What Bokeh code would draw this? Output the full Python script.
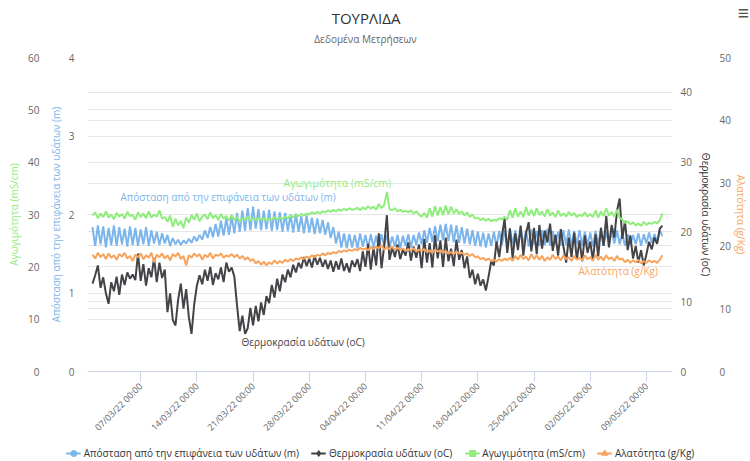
import math
import numpy as np
import pandas as pd
from bokeh.plotting import figure
from bokeh.models import Range1d, LinearAxis, FixedTicker, Grid, Label, Legend, LegendItem
from bokeh.embed import file_html
from bokeh.resources import INLINE

FONT = "Open Sans"
BLUE = "#7cb5ec"
BLACK = "#434348"
GREEN = "#90ed7d"
ORANGE = "#f7a35c"

# ---------------- data (8-hourly readings from 01/03/22 00:00) ----------------
start = "2022-03-01 00:00"
step_hours = 8

distance = [
    1.84, 1.60, 1.86, 1.62, 1.85, 1.58, 1.83, 1.61, 1.86, 1.60, 1.84, 1.62, 1.82, 1.59, 1.85,
    1.61, 1.83, 1.60, 1.81, 1.62, 1.84, 1.60, 1.80, 1.63, 1.78, 1.61, 1.76, 1.63, 1.74, 1.60,
    1.70, 1.62, 1.68, 1.61, 1.67, 1.63, 1.69, 1.64, 1.72, 1.66, 1.74, 1.68, 1.80, 1.70, 1.84,
    1.71, 1.88, 1.72, 1.92, 1.73, 1.95, 1.74, 1.98, 1.76, 2.02, 1.78, 2.05, 1.79, 2.08, 1.80,
    2.10, 1.82, 2.07, 1.80, 2.05, 1.81, 2.06, 1.79, 2.04, 1.80, 2.03, 1.78, 2.02, 1.79, 2.00,
    1.77, 2.01, 1.78, 1.98, 1.76, 1.99, 1.77, 1.96, 1.75, 1.95, 1.76, 1.93, 1.74, 1.90, 1.70,
    1.84, 1.63, 1.78, 1.58, 1.76, 1.57, 1.75, 1.58, 1.74, 1.57, 1.76, 1.59, 1.74, 1.57, 1.75,
    1.58, 1.73, 1.57, 1.75, 1.60, 1.74, 1.58, 1.72, 1.59, 1.74, 1.57, 1.73, 1.60, 1.75, 1.58,
    1.74, 1.61, 1.77, 1.62, 1.80, 1.64, 1.83, 1.65, 1.85, 1.66, 1.87, 1.67, 1.88, 1.66, 1.87,
    1.65, 1.86, 1.64, 1.84, 1.63, 1.82, 1.62, 1.80, 1.60, 1.78, 1.59, 1.77, 1.58, 1.76, 1.60,
    1.78, 1.59, 1.79, 1.61, 1.80, 1.60, 1.81, 1.62, 1.80, 1.60, 1.82, 1.61, 1.80, 1.59, 1.81,
    1.62, 1.79, 1.60, 1.80, 1.61, 1.82, 1.60, 1.79, 1.62, 1.78, 1.60, 1.80, 1.61, 1.81, 1.59,
    1.79, 1.62, 1.80, 1.60, 1.78, 1.61, 1.77, 1.59, 1.79, 1.62, 1.80, 1.60, 1.78, 1.61, 1.79,
    1.63, 1.80, 1.62, 1.76, 1.60, 1.75, 1.61, 1.74, 1.62, 1.76, 1.60, 1.75, 1.63, 1.77, 1.64,
    1.75, 1.65, 1.80, 1.72,
]

temperature = [
    12.6, 13.8, 15.2, 12.0, 13.5, 11.2, 9.7, 12.8, 11.5, 13.6, 11.0, 13.9, 12.4, 14.2, 13.3,
    13.9, 13.1, 16.9, 13.0, 15.4, 12.3, 14.8, 13.5, 16.3, 12.8, 15.6, 13.4, 14.6, 8.5, 11.2,
    7.4, 6.6, 10.3, 12.6, 9.0, 11.8, 7.8, 5.4, 9.6, 12.3, 13.8, 12.5, 14.6, 13.0, 15.0,
    12.4, 14.1, 13.2, 14.9, 12.8, 15.6, 14.3, 14.9, 13.6, 9.5, 5.8, 8.0, 5.4, 6.2, 9.1,
    6.6, 9.4, 7.2, 9.9, 8.1, 10.8, 9.8, 12.4, 10.6, 13.3, 11.5, 13.9, 12.8, 14.6, 13.5,
    15.3, 14.2, 15.6, 14.8, 16.4, 15.1, 16.2, 14.9, 16.6, 15.3, 16.3, 15.0, 16.0, 14.7, 15.9,
    14.3, 15.8, 14.6, 16.2, 14.4, 15.5, 14.2, 15.9, 15.0, 16.1, 14.4, 17.2, 15.0, 18.3, 14.6,
    17.8, 15.2, 19.8, 14.8, 18.0, 22.4, 16.0, 17.8, 16.4, 18.2, 16.1, 17.5, 16.6, 18.5, 15.9,
    17.9, 16.3, 18.2, 14.8, 19.0, 15.6, 18.4, 14.9, 19.5, 16.2, 18.8, 15.0, 19.2, 15.8, 17.6,
    15.1, 18.9, 16.0, 17.4, 14.8, 16.5, 13.4, 14.6, 12.5, 14.0, 12.3, 13.2, 11.6, 13.6, 15.8,
    15.2, 18.6, 16.4, 19.4, 21.9, 17.0, 20.5, 16.2, 19.8, 17.4, 20.9, 16.6, 19.8, 21.4, 17.2,
    20.6, 16.8, 21.0, 17.6, 20.2, 18.5, 21.2, 17.3, 19.6, 16.6, 20.4, 17.9, 15.6, 19.2, 16.4,
    19.9, 16.0, 18.8, 15.8, 19.5, 17.0, 18.6, 15.9, 19.7, 16.5, 20.6, 18.0, 22.3, 17.8, 21.0,
    19.2, 23.0, 24.8, 19.0, 21.6, 17.4, 19.5, 16.2, 18.0, 15.6, 17.4, 15.2, 16.8, 18.6, 17.5,
    19.2, 18.3, 20.5, 20.9,
]

conductivity = [
    29.8, 30.4, 29.3, 30.2, 29.5, 30.6, 29.4, 30.0, 29.1, 30.3, 29.6, 30.1, 29.2, 30.5, 29.7,
    29.9, 29.0, 30.4, 29.5, 30.2, 29.3, 30.6, 29.4, 30.0, 29.6, 30.8, 29.2, 29.5, 28.6, 29.8,
    27.6, 29.2, 27.9, 28.8, 27.4, 29.5, 28.4, 29.9, 29.0, 30.2, 28.7, 29.6, 30.0, 29.1, 30.4,
    29.3, 29.9, 28.9, 30.1, 29.2, 29.7, 28.8, 29.9, 29.0, 29.5, 28.7, 29.3, 29.0, 29.6, 28.8,
    29.2, 28.9, 29.4, 29.0, 29.3, 28.8, 29.2, 29.0, 29.5, 29.1, 29.4, 29.2, 29.6, 29.3, 29.8,
    29.5, 29.9, 29.7, 30.1, 29.8, 30.2, 30.0, 30.4, 30.1, 30.5, 30.2, 30.6, 30.4, 30.8, 30.5,
    30.9, 30.6, 31.0, 30.7, 31.1, 30.8, 31.2, 30.9, 31.0, 31.3, 30.8, 31.4, 31.0, 31.6, 31.1,
    31.5, 30.9, 32.0, 31.2, 31.8, 34.3, 31.0, 30.8, 31.2, 30.6, 30.9, 30.5, 30.7, 30.4, 30.8,
    30.2, 30.6, 30.0, 29.6, 30.3, 29.4, 31.2, 29.6, 31.6, 29.8, 31.4, 29.9, 31.7, 30.0, 31.5,
    30.2, 31.0, 30.1, 30.6, 29.8, 30.4, 29.5, 30.0, 29.2, 29.4, 28.9, 29.3, 28.8, 29.2, 28.7,
    29.0, 28.8, 29.3, 29.1, 29.6, 29.0, 30.8, 29.4, 31.2, 29.6, 30.6, 29.5, 31.4, 29.8, 30.9,
    29.7, 31.2, 29.9, 30.6, 29.6, 31.0, 29.8, 30.4, 29.5, 30.8, 29.7, 30.2, 29.6, 30.5, 29.8,
    30.3, 29.5, 30.0, 29.7, 30.4, 29.6, 30.1, 29.5, 30.8, 29.4, 30.6, 29.7, 31.2, 29.8, 30.5,
    29.6, 30.9, 29.4, 29.0, 28.4, 28.7, 28.1, 28.5, 27.9, 28.3, 27.8, 28.6, 28.0, 28.4, 28.2,
    28.6, 28.3, 28.9, 30.2,
]

salinity = [
    18.6, 18.0, 18.9, 18.2, 18.7, 17.9, 18.8, 18.1, 18.5, 17.8, 18.7, 18.3, 18.9, 18.0, 18.4,
    17.6, 18.6, 18.2, 18.8, 17.9, 18.5, 18.1, 18.9, 17.4, 18.6, 18.2, 18.8, 18.0, 18.5, 17.7,
    18.7, 18.3, 18.9, 17.9, 18.4, 16.9, 18.5, 18.1, 18.8, 18.3, 18.7, 17.8, 18.6, 18.2, 18.9,
    18.0, 18.6, 18.4, 18.8, 18.1, 18.5, 18.3, 18.7, 18.2, 18.6, 18.0, 18.4, 17.8, 18.2, 17.6,
    17.9, 17.2, 17.6, 17.0, 17.5, 16.9, 17.4, 17.1, 17.7, 17.2, 17.6, 17.3, 17.8, 17.5, 17.9,
    17.6, 18.0, 17.8, 18.2, 17.9, 18.3, 18.1, 18.5, 18.2, 18.6, 18.4, 18.8, 18.5, 18.9, 18.7,
    19.0, 18.8, 19.2, 19.0, 19.3, 19.1, 19.4, 19.2, 19.5, 19.3, 19.7, 19.4, 19.6, 19.3, 19.8,
    19.5, 19.9, 19.6, 20.1, 19.4, 19.8, 19.5, 19.9, 19.3, 19.7, 19.4, 19.6, 19.2, 19.5, 19.3,
    19.6, 19.1, 19.4, 19.2, 19.5, 19.0, 19.3, 18.9, 19.4, 19.1, 19.3, 18.9, 19.2, 18.8, 19.0,
    18.7, 19.1, 18.8, 18.9, 18.6, 18.8, 18.4, 18.7, 18.2, 18.3, 17.9, 18.1, 17.7, 18.0, 17.6,
    17.8, 17.5, 17.9, 17.6, 18.0, 17.7, 18.1, 17.6, 18.4, 17.8, 18.6, 17.9, 18.3, 17.7, 18.7,
    17.9, 18.5, 17.8, 18.4, 17.6, 18.2, 17.8, 18.6, 17.9, 18.3, 17.7, 18.5, 17.9, 18.2, 17.6,
    18.4, 17.8, 18.1, 17.7, 18.5, 17.9, 18.2, 17.6, 18.6, 17.8, 18.3, 17.7, 18.5, 17.9, 18.2,
    17.6, 18.4, 17.8, 18.0, 17.4, 17.8, 17.3, 17.7, 17.4, 17.8, 17.2, 17.6, 17.3, 17.7, 17.4,
    17.6, 17.3, 17.8, 18.5,
]

series_names = [
    "Απόσταση από την επιφάνεια των υδάτων (m)",
    "Θερμοκρασία υδάτων (oC)",
    "Αγωγιμότητα (mS/cm)",
    "Αλατότητα (g/Kg)",
]
series_colors = [BLUE, BLACK, GREEN, ORANGE]
legend_markers = ["circle", "diamond", "square", "triangle"]

tick_dates = ["2022-03-07", "2022-03-14", "2022-03-21", "2022-03-28", "2022-04-04",
              "2022-04-11", "2022-04-18", "2022-04-25", "2022-05-02", "2022-05-09"]
tick_labels = ["07/03/22 00:00", "14/03/22 00:00", "21/03/22 00:00", "28/03/22 00:00",
               "04/04/22 00:00", "11/04/22 00:00", "18/04/22 00:00", "25/04/22 00:00",
               "02/05/22 00:00", "09/05/22 00:00"]

cond_ticks = [0, 10, 20, 30, 40, 50, 60]
dist_ticks = [0, 1, 2, 3, 4]
temp_ticks = [0, 10, 20, 30, 40]
sal_ticks = [0, 10, 20, 30, 40, 50]

title_text = "ΤΟΥΡΛΙΔΑ"
subtitle_text = "Δεδομένα Μετρήσεων"
menu_icon = "≡"


def times_for(series):
    return pd.date_range(start, periods=len(series), freq=f"{step_hours}h")


def strip(height, left=0):
    f = figure(width=750, height=height, output_backend="svg", toolbar_location=None,
               x_range=Range1d(0, 1), y_range=Range1d(0, 1),
               x_axis_location=None, y_axis_location=None,
               min_border_left=left, min_border_right=0, min_border_top=0, min_border_bottom=0)
    f.outline_line_color = None
    f.grid.visible = False
    return f


def screen_label(fig, x, y, text, color, size, align="left", style="normal"):
    fig.add_layout(Label(x=x, y=y, x_units="screen", y_units="screen", text=text,
                         text_font=FONT, text_font_size=size, text_color=color,
                         text_font_style=style, text_align=align, text_baseline="middle"))


# ---------------- header strip (title, subtitle, menu icon) ----------------
HEADER_H = 47
hd = strip(HEADER_H)
screen_label(hd, 365.5, HEADER_H - 17, title_text, "#333333", "15px", "center")
screen_label(hd, 365, HEADER_H - 38, subtitle_text, "#666666", "10px", "center")
screen_label(hd, 743, HEADER_H - 12, menu_icon, "#555555", "20px", "center", "bold")

# ---------------- main chart ----------------
tick_ms = [int(pd.Timestamp(d).value // 10**6) for d in tick_dates]

p = figure(width=750, height=461 - HEADER_H - 16, x_axis_type="datetime",
           output_backend="svg", toolbar_location=None,
           x_range=Range1d(pd.Timestamp("2022-02-28 09:00"), pd.Timestamp("2022-05-12 06:00")),
           y_range=Range1d(0, 4),
           min_border_left=87, min_border_right=78, min_border_top=57 - HEADER_H, min_border_bottom=74)
p.extra_y_ranges = {"cond": Range1d(0, 60), "temp": Range1d(0, 45), "sal": Range1d(0, 50)}
p.outline_line_color = None
p.background_fill_color = "white"
p.border_fill_color = "white"
p.xgrid.visible = False
p.ygrid.grid_line_color = "#e6e6e6"


def style_y(ax, ticks, standoff, label, label_color, label_standoff):
    ax.ticker = FixedTicker(ticks=ticks)
    ax.axis_line_color = None
    ax.major_tick_line_color = None
    ax.minor_tick_line_color = None
    ax.major_tick_out = 0
    ax.major_tick_in = 0
    ax.major_label_standoff = standoff
    ax.major_label_text_font = FONT
    ax.major_label_text_font_size = "10px"
    ax.major_label_text_color = "#666666"
    ax.axis_label = label
    ax.axis_label_text_font = FONT
    ax.axis_label_text_font_size = "10px"
    ax.axis_label_text_font_style = "normal"
    ax.axis_label_text_color = label_color
    ax.axis_label_standoff = label_standoff


# inner left: distance
style_y(p.yaxis[0], dist_ticks, 13, series_names[0], BLUE, 3)
# outer left: conductivity
ax_cond = LinearAxis(y_range_name="cond")
style_y(ax_cond, cond_ticks, 6, series_names[2], GREEN, 4)
p.add_layout(ax_cond, "left")
# inner right: temperature
ax_temp = LinearAxis(y_range_name="temp")
style_y(ax_temp, temp_ticks, 8, series_names[1], "#333333", 4)
p.add_layout(ax_temp, "right")
# outer right: salinity
ax_sal = LinearAxis(y_range_name="sal")
style_y(ax_sal, sal_ticks, 4, series_names[3], ORANGE, 0)
p.add_layout(ax_sal, "right")

for ax, rn in [(ax_cond, "cond"), (ax_temp, "temp"), (ax_sal, "sal")]:
    p.add_layout(Grid(dimension=1, ticker=ax.ticker, y_range_name=rn, grid_line_color="#e6e6e6"))

xa = p.xaxis[0]
xa.ticker = FixedTicker(ticks=tick_ms)
xa.major_label_overrides = dict(zip(tick_ms, tick_labels))
xa.major_label_orientation = math.pi / 4
xa.axis_line_color = "#ccd6eb"
xa.major_tick_line_color = "#ccd6eb"
xa.minor_tick_line_color = None
xa.major_tick_out = 10
xa.major_tick_in = 0
xa.major_label_standoff = 3
xa.major_label_text_font = FONT
xa.major_label_text_font_size = "9px"
xa.major_label_text_color = "#666666"

lw = 2
p.line(times_for(distance), distance, line_color=BLUE, line_width=lw)
p.line(times_for(temperature), temperature, line_color=BLACK, line_width=lw, y_range_name="temp")
p.line(times_for(conductivity), conductivity, line_color=GREEN, line_width=lw, y_range_name="cond")
p.line(times_for(salinity), salinity, line_color=ORANGE, line_width=lw, y_range_name="sal")

screen_label(p, 33, 175, series_names[0], BLUE, "10px")
screen_label(p, 196, 189, series_names[2], GREEN, "10.5px")
screen_label(p, 154, 30, series_names[1], BLACK, "10px")
screen_label(p, 491, 101, series_names[3], ORANGE, "10px")

# ---------------- legend strip below the chart ----------------
lg = strip(16, left=10)
items = []
for name, col, mk in zip(series_names, series_colors, legend_markers):
    rl = lg.line([0.0], [np.nan], line_color=col, line_width=2)
    rm = lg.scatter([0.0], [np.nan], marker=mk, size=8, color=col)
    items.append(LegendItem(label=name, renderers=[rl, rm]))
legend = Legend(items=items, orientation="horizontal", location="center",
                label_text_font=FONT, label_text_font_size="10px", label_text_color="#333333",
                glyph_width=15, glyph_height=16, label_height=16, label_standoff=3, spacing=12,
                padding=0, margin=0, border_line_color=None, background_fill_alpha=0)
lg.add_layout(legend)

open("out.html", "w").write(file_html([hd, p, lg], INLINE))
